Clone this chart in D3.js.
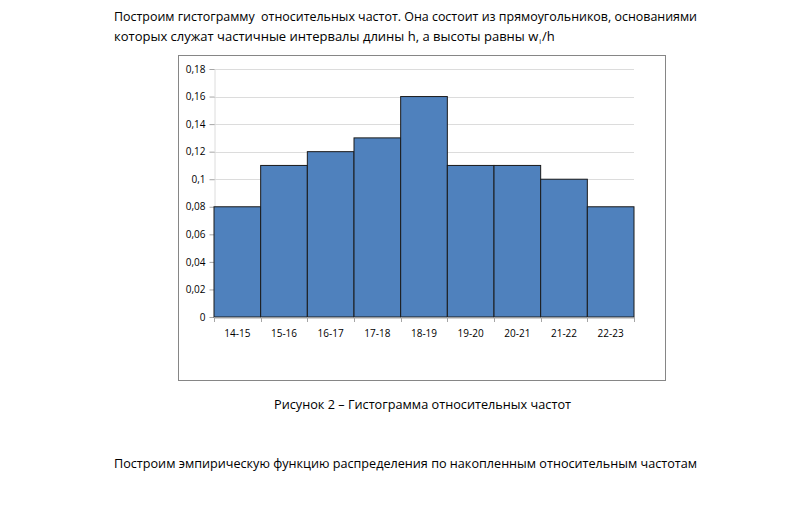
<!DOCTYPE html>
<html>
<head>
<meta charset="utf-8">
<script src="https://cdn.jsdelivr.net/npm/d3@7"></script>
<style>
  body { margin: 0; background: #fff; }
  text { font-family: "Open Sans", "Noto Sans", sans-serif; fill: #000; white-space: pre; }
</style>
</head>
<body>
<div id="chart"></div>
<script>
var categories = ["14-15", "15-16", "16-17", "17-18", "18-19", "19-20", "20-21", "21-22", "22-23"];
var values = [0.08, 0.11, 0.12, 0.13, 0.16, 0.11, 0.11, 0.10, 0.08];
var yTicks = [0, 0.02, 0.04, 0.06, 0.08, 0.1, 0.12, 0.14, 0.16, 0.18];

var w = 785, h = 520;
var plotL = 214, plotR = 634, plotT = 69, plotB = 317;

var svg = d3.select("#chart").append("svg")
  .attr("width", w)
  .attr("height", h);

// paragraph text
function para(txt, x, y, len, size) {
  return svg.append("text")
    .attr("x", x).attr("y", y)
    .attr("font-size", size || 13.5)
    .attr("textLength", len)
    .attr("lengthAdjust", "spacingAndGlyphs")
    .text(txt);
}
para("Построим гистограмму  относительных частот. Она состоит из прямоугольников, основаниями", 114, 21, 583);
// second line: measured, then subscript i and /h placed after it
var line2 = svg.append("text").attr("x", 114).attr("y", 41).attr("font-size", 13)
  .text("которых служат частичные интервалы длины h, а высоты равны w");
var end2 = 114 + line2.node().getComputedTextLength();
var sub = svg.append("text").attr("x", end2 + 1).attr("y", 44).attr("font-size", 7).text("i");
var endSub = end2 + 1 + sub.node().getComputedTextLength();
svg.append("text").attr("x", endSub + 1).attr("y", 41).attr("font-size", 13).text("/h");

// chart frame
svg.append("rect")
  .attr("x", 178.5).attr("y", 55.5)
  .attr("width", 487).attr("height", 325)
  .attr("fill", "#fff")
  .attr("stroke", "#868686");

var xScale = d3.scaleBand().domain(categories).range([plotL, plotR]).padding(0);
var yScale = d3.scaleLinear().domain([0, 0.18]).range([plotB, plotT]);

// gridlines
svg.append("g")
  .selectAll("line")
  .data(yTicks.filter(function(d){ return d > 0; }))
  .enter().append("line")
  .attr("x1", plotL).attr("x2", plotR)
  .attr("y1", function(d){ return Math.round(yScale(d)) + 0.5; })
  .attr("y2", function(d){ return Math.round(yScale(d)) + 0.5; })
  .attr("stroke", "#dcdcdc");

// y axis
var fmt = function(d){ return d === 0 ? "0" : String(+d.toFixed(2)).replace(".", ","); };
var yAxis = svg.append("g")
  .attr("transform", "translate(" + (plotL + 0.5) + ",0)")
  .call(d3.axisLeft(yScale).tickValues(yTicks).tickFormat(fmt).tickSize(5).tickPadding(4));
yAxis.select(".domain").attr("stroke", "#dcdcdc");
yAxis.selectAll(".tick line").attr("stroke", "#a6a6a6");
yAxis.selectAll("text").attr("font-size", 10).attr("font-family", "Open Sans, sans-serif").attr("fill", "#222");

// bars
svg.append("g")
  .selectAll("rect")
  .data(values)
  .enter().append("rect")
  .attr("x", function(d, i){ return xScale(categories[i]); })
  .attr("y", function(d){ return yScale(d); })
  .attr("width", xScale.bandwidth())
  .attr("height", function(d){ return plotB - yScale(d); })
  .attr("fill", "#4f81bd")
  .attr("stroke", "#1a1a1a")
  .attr("stroke-width", 1);

// x axis
var xAxis = svg.append("g")
  .attr("transform", "translate(0," + (plotB + 0.5) + ")")
  .call(d3.axisBottom(xScale).tickSize(0).tickPadding(12));
xAxis.select(".domain").attr("stroke", "#a6a6a6");
xAxis.selectAll("text").attr("font-size", 10).attr("font-family", "Open Sans, sans-serif").attr("fill", "#222");
// category separator ticks
svg.append("g")
  .selectAll("line")
  .data(d3.range(categories.length + 1))
  .enter().append("line")
  .attr("x1", function(i){ return Math.round(plotL + i * xScale.bandwidth()) + 0.5; })
  .attr("x2", function(i){ return Math.round(plotL + i * xScale.bandwidth()) + 0.5; })
  .attr("y1", plotB).attr("y2", plotB + 5)
  .attr("stroke", "#a6a6a6");

// caption
para("Рисунок 2 – Гистограмма относительных частот", 274, 409, 297);

para("Построим эмпирическую функцию распределения по накопленным относительным частотам", 114, 468, 583);
</script>
</body>
</html>
